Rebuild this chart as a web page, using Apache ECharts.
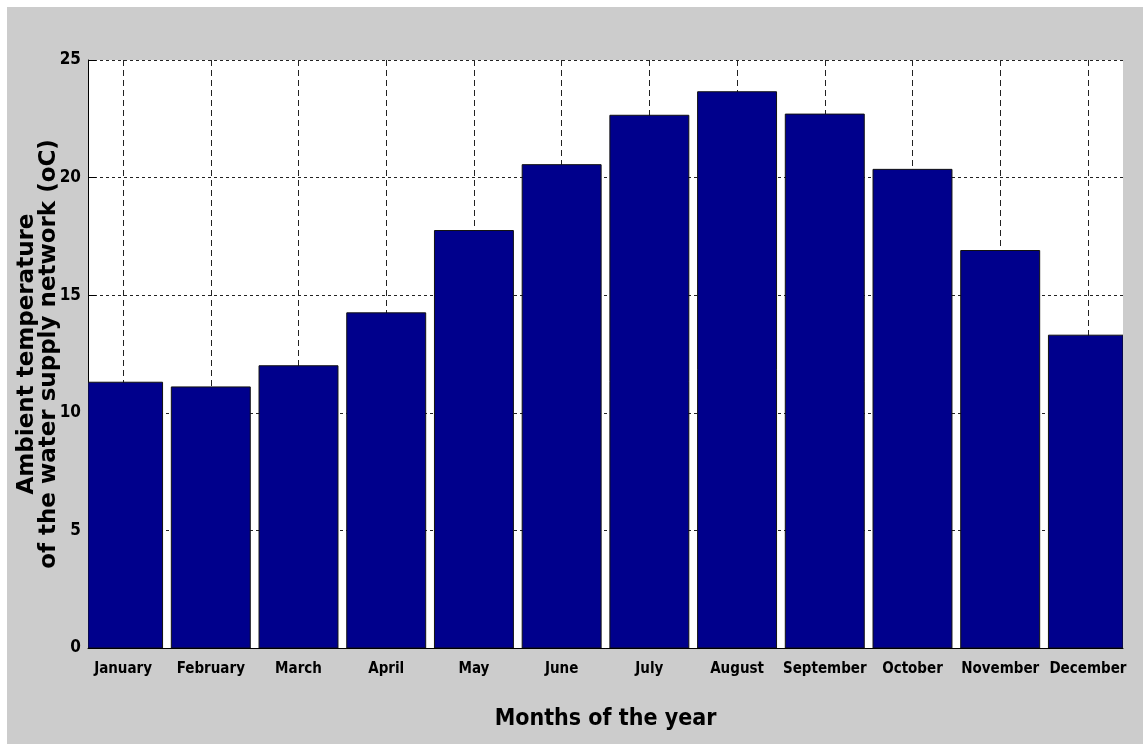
<!DOCTYPE html>
<html>
<head>
<meta charset="utf-8">
<script src="https://cdn.jsdelivr.net/npm/echarts@6/dist/echarts.min.js"></script>
<style>
  html, body { margin: 0; padding: 0; background: #fff; }
  #main { position: absolute; left: 7px; top: 7px; width: 1136px; height: 737px; }
</style>
</head>
<body>
<div id="main"></div>
<script>
// month names and read-off temperatures (oC)
const months = ["January", "February", "March", "April", "May", "June",
  "July", "August", "September", "October", "November", "December"];
const temps = [11.3, 11.1, 12.0, 14.25, 17.75, 20.55, 22.65, 23.65, 22.7, 20.35, 16.9, 13.3];
const monthPos = [1, 2, 3, 4, 5, 6, 7, 8, 9, 10, 11, 12];

const narrow = "'Liberation Sans Narrow', 'DejaVu Sans Condensed', 'Arial Narrow', sans-serif";
const barFrac = 0.9; // bar width as a share of one month

const chart = echarts.init(document.getElementById("main"));

// bars drawn by hand so that the outer ones get cut at the axes like in matlab
function renderBar(params, api) {
  const x = api.value(0);
  const v = api.value(1);
  const top = api.coord([x, v]);
  const base = api.coord([x, 0]);
  const w = api.size([barFrac, 0])[0];
  const cs = params.coordSys;
  const shape = echarts.graphic.clipRectByRect(
    { x: top[0] - w / 2, y: top[1], width: w, height: base[1] - top[1] },
    { x: cs.x, y: cs.y, width: cs.width, height: cs.height }
  );
  if (!shape) return;
  return {
    type: "rect",
    shape: shape,
    style: { fill: "#00008c", stroke: "#111", lineWidth: 1 },
  };
}

let option = {
  backgroundColor: "#cccccc",
  animation: false,
  grid: {
    left: 81,
    top: 53,
    right: 20,
    bottom: 96,
    containLabel: false,
    outerBoundsMode: "none",
    show: true,
    backgroundColor: "#ffffff",
    borderWidth: 0,
  },
  xAxis: {
    type: "value",
    min: 0.6,
    max: 12.4,
    name: "Months of the year",
    nameLocation: "middle",
    nameGap: 60,
    nameTextStyle: {
      fontFamily: narrow,
      fontWeight: "bold",
      fontSize: 23,
      color: "#000",
    },
    axisLine: { show: true, onZero: false, lineStyle: { color: "#000", width: 1 } },
    axisTick: { show: true, inside: true, length: 8, customValues: monthPos, lineStyle: { color: "#000" } },
    axisLabel: {
      customValues: monthPos,
      margin: 14,
      fontFamily: narrow,
      fontWeight: "bold",
      fontSize: 15,
      color: "#000",
      formatter: (v) => months[Math.round(v) - 1],
    },
    splitLine: {
      show: true,
      lineStyle: { color: "#222", type: [6, 4], width: 1 },
    },
  },
  yAxis: {
    type: "value",
    min: 0,
    max: 25,
    interval: 5,
    name: "Ambient temperature\nof the water supply network (oC)",
    nameLocation: "middle",
    nameGap: 28,
    nameMoveOverlap: false,
    nameTextStyle: {
      fontFamily: "'DejaVu Sans', Verdana, sans-serif",
      fontWeight: "bold",
      fontSize: 23,
      lineHeight: 22,
      color: "#000",
    },
    axisLine: { show: true, onZero: false, lineStyle: { color: "#000", width: 1 } },
    axisTick: { show: true, inside: true, length: 8, lineStyle: { color: "#000" } },
    axisLabel: {
      margin: 7,
      fontFamily: narrow,
      fontWeight: "bold",
      fontSize: 17,
      color: "#000",
    },
    splitLine: {
      show: true,
      lineStyle: { color: "#222", type: [3, 3], width: 1 },
    },
  },
  series: [
    {
      type: "custom",
      renderItem: renderBar,
      encode: { x: 0, y: 1 },
      data: monthPos.map((x, i) => [x, temps[i]]),
      clip: true,
    },
  ],
};

chart.setOption(option);
</script>
</body>
</html>
